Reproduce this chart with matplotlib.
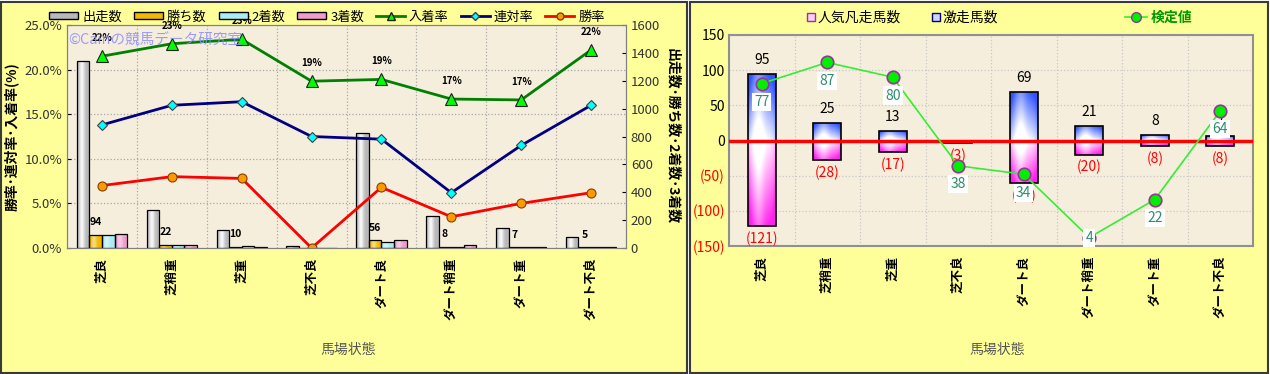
import numpy as np
import matplotlib
matplotlib.use("Agg")
import matplotlib.pyplot as plt
from matplotlib.colors import to_rgb
from matplotlib.lines import Line2D
from matplotlib.patches import Patch, Rectangle

plt.rcParams['font.family'] = ['Noto Sans CJK JP', 'DejaVu Sans']

conditions = ["芝良", "芝稍重", "芝重", "芝不良", "ダート良", "ダート稍重", "ダート重", "ダート不良"]

# left chart: counts (right axis) and rates in % (left axis)
runs = [1343, 275, 128, 16, 822, 229, 140, 81]
wins = [94, 22, 10, 0, 56, 8, 7, 5]
seconds = [91, 22, 11, 2, 44, 6, 9, 8]
thirds = [104, 19, 9, 1, 55, 24, 7, 5]
place_rate = [21.5, 22.9, 23.4, 18.7, 18.9, 16.7, 16.6, 22.2]
quinella_rate = [13.8, 16.0, 16.4, 12.5, 12.2, 6.2, 11.5, 16.0]
win_rate = [7.0, 8.0, 7.8, 0.0, 6.8, 3.5, 5.0, 6.2]

# right chart
upset_counts = [95, 25, 13, 0, 69, 21, 8, 7]
flop_counts = [-121, -28, -17, -3, -61, -20, -8, -8]
test_values = [77, 87, 80, 38, 34, 4, 22, 64]

W, H = 1270, 374
PANEL = '#FFFF99'
PLOT_BG = '#F6EEDC'


def box(l, t, r, b):
    return [l / W, 1 - b / H, (r - l) / W, (b - t) / H]


def shade(ax, bars, color, mode="h", strength=0.85):
    # fake the excel cylinder look: gradient image clipped to each bar
    base = np.array(to_rgb(color))
    t = np.linspace(0, 1, 40)
    hl = np.exp(-((t - 0.38) / 0.22) ** 2)
    edge = (2 * t - 1) ** 4
    for b in bars:
        h = b.get_height()
        if h == 0:
            continue
        x0, y0 = b.get_xy()
        w = b.get_width()
        if mode == "h":
            k = np.clip(1 - strength * hl + 0.2 * edge, 0, 1)[None, :]
        else:
            depth = t if h > 0 else 1 - t
            k = np.clip(0.05 + 0.95 * depth[:, None] - 0.35 * hl[None, :]
                        + 0.3 * edge[None, :], 0, 1)
        rgb = 1 - k[..., None] * (1 - base)
        im = ax.imshow(rgb, extent=(x0, x0 + w, min(y0, y0 + h), max(y0, y0 + h)),
                       aspect='auto', origin='lower', interpolation='bilinear',
                       zorder=b.get_zorder() - 0.01)
        im.set_clip_path(b)


fig = plt.figure(figsize=(12.7, 3.74), dpi=100)
fig.add_artist(Rectangle((1 / W, 1 / H), 686 / W, 371 / H, transform=fig.transFigure,
                         fc=PANEL, ec='#3A3A3A', lw=1.5, zorder=-5))
fig.add_artist(Rectangle((690 / W, 1 / H), 578 / W, 371 / H, transform=fig.transFigure,
                         fc=PANEL, ec='#3A3A3A', lw=1.5, zorder=-5))

x = np.arange(len(conditions))

# ---------------- left chart ----------------
axc = fig.add_axes(box(67, 25, 626, 248))
axp = axc.twinx()
axc.set_facecolor(PLOT_BG)
axc.set_axisbelow(True)
bw = 0.18
bar_specs = [(runs, '#B8B8B8', 0.9, '出走数'), (wins, '#F0B800', 0.5, '勝ち数'),
             (seconds, '#A8ECF4', 0.5, '2着数'), (thirds, '#F09CCC', 0.5, '3着数')]
for i, (vals, col, st, _) in enumerate(bar_specs):
    bars = axc.bar(x + (i - 1.5) * bw, vals, bw, facecolor='none', edgecolor='black', lw=0.9)
    shade(axc, bars, col, "h", st)
for xi, v in zip(x, wins):
    if v:
        axc.annotate(str(v), (xi - 0.5 * bw, v), xytext=(0, 9), textcoords='offset points',
                     ha='center', va='center', fontsize=7.5, fontweight='bold')
axc.set_xlim(-0.5, 7.5)
axc.set_ylim(0, 1600)
axc.set_yticks(range(0, 1601, 200))
axc.set_yticks(np.arange(320, 1600, 320), minor=True)
axc.set_xticks(x)
axc.set_xticks(x[:-1] + 0.5, minor=True)
axc.set_xticklabels(conditions, rotation=90, fontsize=9, fontweight='bold', va='top')
axc.grid(which='minor', color='#A8A8A8', ls=':', lw=0.9)
axc.tick_params(which='minor', length=0)
axc.tick_params(axis='x', length=0, pad=7)
axc.yaxis.tick_right()
axc.yaxis.set_label_position('right')
axc.tick_params(axis='y', labelsize=9.5, labelcolor='#333333', length=3, direction='in')
axc.set_ylabel('出走数･勝ち数･2着数･3着数', rotation=270, fontsize=10, fontweight='bold',
               labelpad=14)
for s in axc.spines.values():
    s.set_color('#808080')

axp.plot(x, place_rate, color='#008000', lw=2, marker='^', ms=8,
         mfc='#00FF00', mec='#202020', mew=0.8, label='入着率')
axp.plot(x, quinella_rate, color='#000080', lw=2, marker='D', ms=5,
         mfc='#00FFFF', mec='#404040', mew=0.8, label='連対率')
axp.plot(x, win_rate, color='#FF0000', lw=2, marker='o', ms=6.5,
         mfc='#FF9900', mec='#804000', mew=0.8, label='勝率')
for xi, v in zip(x, place_rate):
    axp.annotate(f"{round(v)}%", (xi, v), xytext=(0, 13), textcoords='offset points',
                 ha='center', va='center', fontsize=7, fontweight='bold')
axp.set_ylim(0, 25)
axp.set_yticks(range(0, 26, 5))
axp.set_yticklabels([f"{v:.1f}%" for v in range(0, 26, 5)])
axp.yaxis.tick_left()
axp.yaxis.set_label_position('left')
axp.tick_params(axis='y', labelsize=9.5, labelcolor='#333333', length=3, direction='in')
axp.set_ylabel('勝率･連対率･入着率(%)', fontsize=10, fontweight='bold', labelpad=4)
for s in axp.spines.values():
    s.set_color('#808080')

fig.text(68 / W, 1 - 41 / H, '©Cainの競馬データ研究室', color='#8C8CFF', fontsize=10.5,
         va='center', alpha=0.85)
fig.text(348 / W, 1 - 350 / H, '馬場状態', ha='center', va='center', fontsize=10,
         color='#555555')

left_handles = [Patch(fc=c, ec='black', lw=1) for _, c, _, _ in bar_specs]
left_handles += [Line2D([], [], color='#008000', lw=2, marker='^', ms=6, mfc='#00FF00', mec='#202020'),
                 Line2D([], [], color='#000080', lw=2, marker='D', ms=4, mfc='#00FFFF', mec='#404040'),
                 Line2D([], [], color='#FF0000', lw=2, marker='o', ms=5, mfc='#FF9900', mec='#804000')]
left_labels = [lab for *_, lab in bar_specs] + ['入着率', '連対率', '勝率']
fig.legend(left_handles, left_labels, ncol=7, loc='center',
           bbox_to_anchor=(327 / W, 1 - 17 / H), frameon=False, fontsize=9.5,
           handlelength=2.2, handleheight=0.45, handletextpad=0.3, columnspacing=0.9)

# ---------------- right chart ----------------
axr = fig.add_axes(box(729, 35, 1253, 246))
axr.set_facecolor(PLOT_BG)
axr.set_axisbelow(True)
rw = 0.42
b_up = axr.bar(x, upset_counts, rw, facecolor='none', edgecolor='black', lw=1.2)
shade(axr, b_up, '#3355FF', "v")
b_dn = axr.bar(x, flop_counts, rw, facecolor='none', edgecolor='black', lw=1.2)
shade(axr, b_dn, '#FF22EE', "v")
axr.axhline(0, color='#FF0000', lw=2.5, zorder=3)
for xi, v in zip(x, upset_counts):
    if v:
        axr.annotate(str(v), (xi, v), xytext=(0, 5), textcoords='offset points',
                     ha='center', va='bottom', fontsize=10)
for xi, v in zip(x, flop_counts):
    axr.annotate(f"({-v})", (xi, v), xytext=(0, -4), textcoords='offset points',
                 ha='center', va='top', fontsize=10, color='#FF0000')
axr.set_xlim(-0.5, 7.5)
axr.set_ylim(-150, 150)
yt = list(range(-150, 151, 50))
axr.set_yticks(yt)
axr.set_yticklabels([str(v) if v >= 0 else f"({-v})" for v in yt], fontsize=10)
for lab, v in zip(axr.get_yticklabels(), yt):
    lab.set_color('#FF0000' if v < 0 else 'black')
axr.set_xticks(x)
axr.set_xticks(x[:-1] + 0.5, minor=True)
axr.set_xticklabels(conditions, rotation=90, fontsize=9, fontweight='bold', va='top')
axr.grid(which='major', axis='y', color='#C8C8C8', ls=':', lw=0.9)
axr.grid(which='minor', axis='x', color='#C8C8C8', ls=':', lw=0.9)
axr.tick_params(which='minor', length=0)
axr.tick_params(axis='x', length=0, pad=7)
axr.tick_params(axis='y', length=0, pad=3)
for s in axr.spines.values():
    s.set_color('#909090')
    s.set_linewidth(1.5)

axk = axr.twinx()
axk.plot(x, test_values, color='#33EE33', lw=1.2, marker='o', ms=9,
         mfc='#00EE00', mec='#993399', mew=1.2, zorder=4)
for xi, v in zip(x, test_values):
    axk.text(xi, max(v - 8.7, 3.6), str(v), ha='center', va='center', fontsize=10,
             color='#2E8B6E', zorder=6, bbox=dict(fc='white', ec='none', pad=1.5))
axk.set_ylim(0, 100)
axk.set_yticks([])
for s in axk.spines.values():
    s.set_visible(False)

fig.text(997 / W, 1 - 350 / H, '馬場状態', ha='center', va='center', fontsize=10,
         color='#555555')

leg1 = fig.legend([Line2D([], [], ls='none', marker='s', ms=6, mfc='#FFCCF4', mec='#993399'),
                   Line2D([], [], ls='none', marker='s', ms=6, mfc='#CCD4FF', mec='#000080')],
                  ['人気凡走馬数', '激走馬数'], ncol=2, loc='center left',
                  bbox_to_anchor=(794 / W, 1 - 18 / H), frameon=False, fontsize=10,
                  handlelength=0.6, handletextpad=0.2, columnspacing=2.2)
leg2 = fig.legend([Line2D([], [], color='#33EE33', lw=1.2, marker='o', ms=7,
                          mfc='#00EE00', mec='#993399')],
                  ['検定値'], loc='center left', bbox_to_anchor=(1112 / W, 1 - 18 / H),
                  frameon=False, fontsize=10, handlelength=1.6, handletextpad=0.3)
for t in leg2.get_texts():
    t.set_color('#009900')
    t.set_fontweight('bold')

fig.savefig('out.png', dpi=100)
